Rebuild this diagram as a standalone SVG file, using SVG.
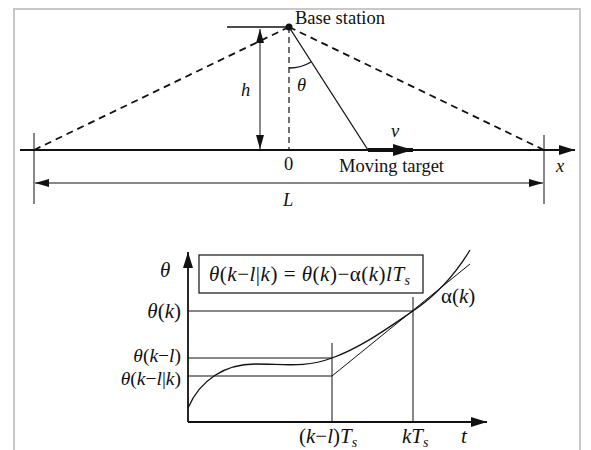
<svg xmlns="http://www.w3.org/2000/svg" width="591" height="450" viewBox="0 0 591 450">
<defs>
<style>
.ln{stroke:#111;stroke-width:1.3;fill:none}
.thin{stroke:#111;stroke-width:1;fill:none}
.ax{stroke:#111;stroke-width:2.2;fill:none}
.dash{stroke:#111;stroke-width:1.8;fill:none;stroke-dasharray:7,5}
.vd{stroke:#111;stroke-width:1.2;fill:none;stroke-dasharray:6,4}
.t{font-family:'Liberation Serif','DejaVu Serif',serif;font-size:18.5px;fill:#111}
.g{font-size:21px}
.s{font-size:19.5px}
.it{font-style:italic}
.sub{font-size:14px;font-style:italic}
</style>
<marker id="ah" viewBox="0 0 14 8" refX="14" refY="4" markerWidth="14" markerHeight="8" markerUnits="userSpaceOnUse" orient="auto-start-reverse">
<path d="M0,0 L14,4 L0,8 Z" fill="#111"/>
</marker>
<marker id="ahb" viewBox="0 0 16 10" refX="16" refY="5" markerWidth="16" markerHeight="10" markerUnits="userSpaceOnUse" orient="auto">
<path d="M0,0 L16,5 L0,10 Z" fill="#111"/>
</marker>
<marker id="ahv" viewBox="0 0 20 12" refX="20" refY="6" markerWidth="20" markerHeight="12" markerUnits="userSpaceOnUse" orient="auto">
<path d="M0,0 L20,6 L0,12 Z" fill="#111"/>
</marker>
</defs>
<rect x="0" y="0" width="591" height="450" fill="#fff"/>
<path d="M14,460 V9 H580 V460" fill="none" stroke="#c8c8c8" stroke-width="2"/>

<g id="connectors">
<line class="ln" x1="227" y1="27" x2="289" y2="27"/>
<line class="dash" x1="289" y1="27" x2="34" y2="150"/>
<line class="dash" x1="289" y1="27" x2="544" y2="150"/>
<line class="vd" x1="289" y1="27" x2="289" y2="150"/>
<line class="ln" x1="289" y1="27" x2="368" y2="150"/>
<path class="ln" d="M289,68 A41,41 0 0 0 311,62"/>
<line class="thin" x1="260" y1="29" x2="260" y2="149" marker-start="url(#ah)" marker-end="url(#ah)"/>
<line class="ax" x1="20" y1="150" x2="575" y2="150" marker-end="url(#ahb)"/>
<line stroke="#111" stroke-width="4" x1="368" y1="150" x2="413" y2="150" marker-end="url(#ahv)"/>
<line class="thin" x1="34" y1="133" x2="34" y2="204"/>
<line class="thin" x1="544" y1="135" x2="544" y2="204"/>
<line class="thin" x1="35" y1="183" x2="543" y2="183" marker-start="url(#ah)" marker-end="url(#ah)"/>
</g>
<g id="base-station">
<circle cx="289" cy="27" r="3.5" fill="#111"/>
<text class="t" x="295" y="24">Base station</text>
</g>
<g id="labels-top">
<text class="t it" x="241" y="96">h</text>
<text class="t it" x="297" y="91">θ</text>
<text class="t" x="284" y="170">0</text>
<text class="t it" x="391" y="137">v</text>
<text class="t" x="339" y="172">Moving target</text>
<text class="t it" x="556" y="172">x</text>
<text class="t it" x="283" y="206">L</text>
</g>

<g id="graph">
<line class="ax" x1="188" y1="422" x2="188" y2="252" marker-end="url(#ahb)" style="stroke-width:1.8"/>
<line class="ax" x1="188" y1="422" x2="487" y2="422" marker-end="url(#ahb)" style="stroke-width:1.8"/>
<line class="thin" x1="188" y1="311" x2="413" y2="311"/>
<line class="thin" x1="413" y1="297" x2="413" y2="422"/>
<line class="thin" x1="188" y1="358" x2="332" y2="358"/>
<line class="thin" x1="332" y1="343" x2="332" y2="422"/>
<line class="thin" x1="188" y1="376" x2="332" y2="376"/>
<path class="thin" d="M332,376 L470,264"/>
<path class="ln" d="M188,408 C200,380 225,364 255,364 C285,364 305,368 332,358 C360,348 385,330 413,311 C435,296 455,275 470,250"/>
</g>
<g id="formula-box">
<rect x="199" y="255" width="224" height="38" fill="none" stroke="#111" stroke-width="1.2"/>
<text class="t g" x="209" y="281" letter-spacing="0.5"><tspan class="it">θ</tspan>(<tspan class="it">k</tspan>−<tspan class="it">l</tspan>|<tspan class="it">k</tspan>) = <tspan class="it">θ</tspan>(<tspan class="it">k</tspan>)−α(<tspan class="it">k</tspan>)<tspan class="it">lT</tspan><tspan class="sub" dy="4">s</tspan></text>
</g>
<g id="labels-graph">
<text class="t g it" x="160" y="277">θ</text>
<text class="t g" text-anchor="end" x="181" y="318"><tspan class="it">θ</tspan>(<tspan class="it">k</tspan>)</text>
<text class="t s" text-anchor="end" x="181" y="362"><tspan class="it">θ</tspan>(<tspan class="it">k</tspan>−<tspan class="it">l</tspan>)</text>
<text class="t s" text-anchor="end" x="181" y="385"><tspan class="it">θ</tspan>(<tspan class="it">k</tspan>−<tspan class="it">l</tspan>|<tspan class="it">k</tspan>)</text>
<text class="t g" x="441" y="303">α(<tspan class="it">k</tspan>)</text>
<text class="t g" x="299" y="443">(<tspan class="it">k</tspan>−<tspan class="it">l</tspan>)<tspan class="it">T</tspan><tspan class="sub" dy="4">s</tspan></text>
<text class="t g" x="402" y="443"><tspan class="it">kT</tspan><tspan class="sub" dy="4">s</tspan></text>
<text class="t g it" x="461" y="443">t</text>
</g>
</svg>
